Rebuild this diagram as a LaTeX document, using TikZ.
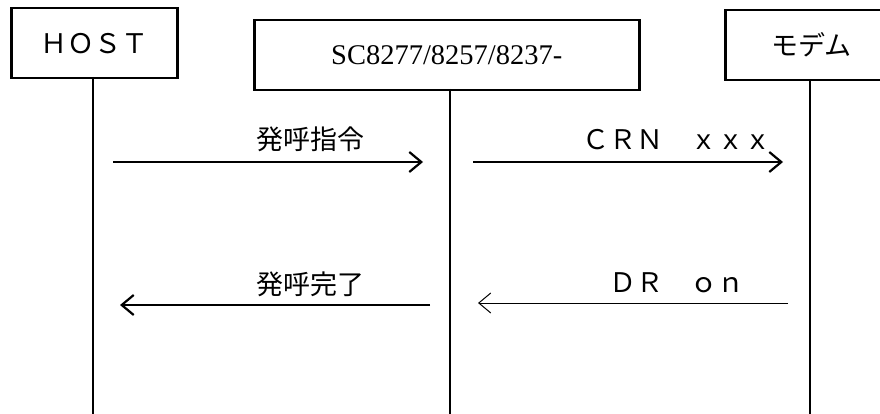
\documentclass[tikz,border=0pt]{standalone}
\usepackage{fontspec}
\setmainfont{Liberation Serif}
\newfontfamily\jpfont{Noto Sans CJK JP}
\usetikzlibrary{arrows.meta}

\begin{document}
\begin{tikzpicture}[x=1pt,y=-1pt,
  boite/.style={draw,line width=2.5pt,inner sep=0pt,minimum height=70pt,anchor=north west},
  vie/.style={line width=2.5pt},
  fleche/.style={line width=2.2pt,-{Straight Barb[length=12pt,width=20pt,line width=2.2pt]}},
  fine/.style={line width=1pt,-{Straight Barb[length=12pt,width=20pt,line width=1pt]}},
  etiq/.style={font=\jpfont\fontsize{27}{27}\selectfont,inner sep=0pt}]
\clip (0,0) rectangle (880,414);

% Boîtes du haut
\node[boite,minimum width=166pt,font=\jpfont\fontsize{27}{27}\selectfont] (host) at (10,7) {ＨＯＳＴ};
\node[boite,minimum width=385pt,font=\fontsize{28.5}{28.5}\selectfont] (sc) at (253,19) {SC8277/8257/8237-};
\node[boite,minimum width=172pt,font=\jpfont\fontsize{27}{27}\selectfont] (modem) at (724,9) {モデム};

% Lignes de vie
\coordinate (hosthaut) at (93,77);
\coordinate (hostbas) at (93,414);
\coordinate (schaut) at (450,89);
\coordinate (scbas) at (450,414);
\coordinate (modemhaut) at (810,80);
\coordinate (modembas) at (810,414);
\draw[vie] (hosthaut) -- (hostbas);
\draw[vie] (schaut) -- (scbas);
\draw[vie] (modemhaut) -- (modembas);

% Messages
\coordinate (a1) at (113,162);
\coordinate (b1) at (423,162);
\coordinate (a2) at (473,162);
\coordinate (b2) at (783,162);
\coordinate (a3) at (430,305);
\coordinate (b3) at (120,305);
\coordinate (a4) at (788,303);
\coordinate (b4) at (478,303);
\draw[fleche] (a1) -- (b1);
\draw[fleche] (a2) -- (b2);
\draw[fleche] (a3) -- (b3);
\draw[fine] (a4) -- (b4);

\node[etiq] (appel) at (310,139) {発呼指令};
\node[etiq] (crn) at (677,140) {ＣＲＮ　ｘｘｘ};
\node[etiq] (fin) at (310,284) {発呼完了};
\node[etiq] (dr) at (677,283) {ＤＲ　ｏｎ};
\end{tikzpicture}
\end{document}
